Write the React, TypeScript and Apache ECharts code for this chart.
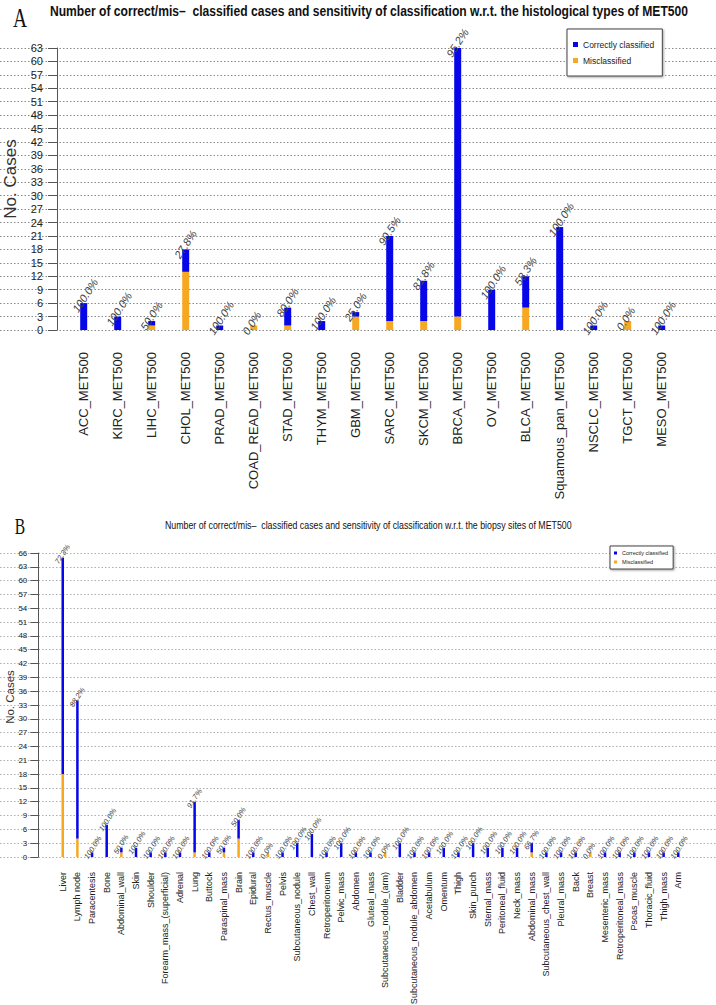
import React, { useEffect, useRef } from "react";
import * as echarts from "echarts";

// ---------- Panel A data ----------
const typesA = [
  "ACC_MET500", "KIRC_MET500", "LIHC_MET500", "CHOL_MET500", "PRAD_MET500",
  "COAD_READ_MET500", "STAD_MET500", "THYM_MET500", "GBM_MET500", "SARC_MET500",
  "SKCM_MET500", "BRCA_MET500", "OV_MET500", "BLCA_MET500", "Squamous_pan_MET500",
  "NSCLC_MET500", "TGCT_MET500", "MESO_MET500",
];
const correctA = [6, 3, 1, 5, 1, 0, 4, 2, 1, 19, 9, 60, 9, 7, 23, 1, 0, 1];
const misA = [0, 0, 1, 13, 0, 1, 1, 0, 3, 2, 2, 3, 0, 5, 0, 0, 2, 0];
const pctA = [
  "100.0%", "100.0%", "50.0%", "27.8%", "100.0%", "0.0%", "80.0%", "100.0%", "25.0%",
  "90.5%", "81.8%", "95.2%", "100.0%", "58.3%", "100.0%", "100.0%", "0.0%", "100.0%",
];

// ---------- Panel B data ----------
const sitesB = [
  "Liver", "Lymph node", "Paracentesis", "Bone", "Abdominal_wall", "Skin", "Shoulder",
  "Forearm_mass_(superficial)", "Adrenal", "Lung", "Buttock", "Paraspinal_mass", "Brain",
  "Epidural", "Rectus_muscle", "Pelvis", "Subcutaneous_nodule", "Chest_wall",
  "Retroperitoneum", "Pelvic_mass", "Abdomen", "Gluteal_mass", "Subcutaneous_nodule_(arm)",
  "Bladder", "Subcutaneous_nodule_abdomen", "Acetabulum", "Omentum", "Thigh", "Skin_punch",
  "Sternal_mass", "Peritoneal_fluid", "Neck_mass", "Abdominal_mass",
  "Subcutaneous_chest_wall", "Pleural_mass", "Back", "Breast", "Mesenteric_mass",
  "Retroperitoneal_mass", "Psoas_muscle", "Thoracic_fluid", "Thigh_mass", "Arm",
];
const correctB = [
  47, 30, 1, 7, 1, 2, 1, 1, 1, 11, 1, 1, 4, 1, 0, 1, 3, 5, 1, 3, 1, 1, 0, 3, 1, 1, 2, 1, 3,
  2, 2, 2, 2, 1, 1, 1, 0, 1, 1, 1, 1, 1, 1,
];
const misB = [
  18, 4, 0, 0, 1, 0, 0, 0, 0, 1, 0, 1, 4, 0, 1, 0, 0, 0, 0, 0, 0, 0, 1, 0, 0, 0, 0, 0, 0,
  0, 0, 0, 1, 0, 0, 0, 1, 0, 0, 0, 0, 0, 0,
];
const pctB = [
  "72.3%", "88.2%", "100.0%", "100.0%", "50.0%", "100.0%", "100.0%", "100.0%", "100.0%",
  "91.7%", "100.0%", "50.0%", "50.0%", "100.0%", "0.0%", "100.0%", "100.0%", "100.0%",
  "100.0%", "100.0%", "100.0%", "100.0%", "0.0%", "100.0%", "100.0%", "100.0%", "100.0%",
  "100.0%", "100.0%", "100.0%", "100.0%", "100.0%", "66.7%", "100.0%", "100.0%", "100.0%",
  "0.0%", "100.0%", "100.0%", "100.0%", "100.0%", "100.0%", "100.0%",
];

const titleA =
  "Number of correct/mis\u2013  classified cases and sensitivity of classification w.r.t. the histological types of MET500";
const titleB =
  "Number of correct/mis\u2013  classified cases and sensitivity of classification w.r.t. the biopsy sites of MET500";

const BLUE = "#0606e8";
const ORANGE = "#f7a823";
const SANS = "'Liberation Sans', Arial, Helvetica, sans-serif";
const NARROW = "'Liberation Sans Narrow', 'Arial Narrow', 'Liberation Sans', sans-serif";
const SERIF = "'Liberation Serif', 'Times New Roman', 'DejaVu Serif', serif";

function measure(text: string, font: string): number {
  const c = document.createElement("canvas").getContext("2d");
  if (!c) return text.length * 7;
  c.font = font;
  return c.measureText(text).width;
}

export default function App() {
  const ref = useRef<HTMLDivElement>(null);
  useEffect(() => {
    document.body.style.margin = "0";
    if (!ref.current) return;
    const chart = echarts.init(ref.current, undefined, { renderer: "svg" });

    const wA = measure(titleA, `bold 14px ${SANS}`);
    const wB = measure(titleB, `11px ${SANS}`);

    const bgY = (max: number, color: string) => ({
      type: "value",
      min: 0,
      max,
      interval: 3,
      axisLine: { show: false },
      axisTick: { show: false },
      axisLabel: { show: false },
      splitLine: { show: true, lineStyle: { color, type: [1.5, 2], width: 1 } },
    });

    const gridBase = { containLabel: false, outerBoundsMode: "none" };

    const option: any = {
      animation: false,
      backgroundColor: "#ffffff",
      graphic: [
        {
          type: "text",
          x: 50,
          y: 11,
          scaleX: 638 / wA,
          style: {
            text: titleA,
            fontSize: 14,
            fontWeight: "bold",
            fontFamily: SANS,
            fill: "#111",
            align: "left",
            verticalAlign: "middle",
          },
        },
        {
          type: "text",
          x: 165,
          y: 525,
          scaleX: 407 / wB,
          style: {
            text: titleB,
            fontSize: 11,
            fontFamily: SANS,
            fill: "#111",
            align: "left",
            verticalAlign: "middle",
          },
        },
        {
          type: "text",
          x: 20,
          y: 18,
          scaleX: 0.72,
          style: { text: "A", fontSize: 27, fontFamily: SERIF, fill: "#111", align: "center", verticalAlign: "middle" },
        },
        {
          type: "text",
          x: 20,
          y: 526,
          scaleX: 0.68,
          style: { text: "B", fontSize: 23, fontFamily: SERIF, fill: "#111", align: "center", verticalAlign: "middle" },
        },
      ],
      legend: [
        {
          left: 567,
          top: 29,
          orient: "vertical",
          data: ["Correctly classified", "Misclassified"],
          icon: "rect",
          itemWidth: 5,
          itemHeight: 5,
          itemGap: 7,
          padding: [11, 8, 11, 6],
          backgroundColor: "#fff",
          borderColor: "#444",
          borderWidth: 1,
          shadowColor: "rgba(0,0,0,0.35)",
          shadowBlur: 2,
          shadowOffsetX: 1,
          shadowOffsetY: 1,
          textStyle: { fontSize: 8.5, fontFamily: NARROW, color: "#222" },
        },
        {
          left: 610,
          top: 546,
          orient: "vertical",
          data: ["Correctly classified", "Misclassified"],
          icon: "rect",
          itemWidth: 3,
          itemHeight: 3,
          itemGap: 3,
          padding: [4, 5, 4, 4],
          backgroundColor: "#fff",
          borderColor: "#444",
          borderWidth: 1,
          shadowColor: "rgba(0,0,0,0.35)",
          shadowBlur: 2,
          shadowOffsetX: 1,
          shadowOffsetY: 1,
          textStyle: { fontSize: 5.5, fontFamily: NARROW, color: "#222" },
        },
      ],
      grid: [
        { ...gridBase, left: 66.7, right: 37.3, top: 48, bottom: 675 },
        { ...gridBase, left: 55.4, right: 30.4, top: 553, bottom: 148 },
        { ...gridBase, left: 0, right: 0, top: 48, bottom: 675 },
        { ...gridBase, left: 0, right: 0, top: 553, bottom: 148 },
      ],
      xAxis: [
        {
          type: "category",
          gridIndex: 0,
          data: typesA,
          axisLine: { show: false },
          axisTick: { show: false },
          axisLabel: { interval: 0, rotate: 90, margin: 22, fontSize: 13, fontFamily: SANS, color: "#222" },
        },
        {
          type: "category",
          gridIndex: 1,
          data: sitesB,
          axisLine: { show: false },
          axisTick: { show: false },
          axisLabel: { interval: 0, rotate: 90, margin: 15, fontSize: 9, fontFamily: SANS, color: "#222" },
        },
        { type: "value", gridIndex: 2, show: false, min: 0, max: 1 },
        { type: "value", gridIndex: 3, show: false, min: 0, max: 1 },
      ],
      yAxis: [
        {
          type: "value",
          gridIndex: 0,
          min: 0,
          max: 63,
          interval: 3,
          offset: 9.7,
          name: "No. Cases",
          nameLocation: "middle",
          nameMoveOverlap: false,
          nameGap: 38,
          nameTextStyle: { fontSize: 17, fontFamily: SANS, color: "#333", padding: [0, 0, 0, 20] },
          axisLine: { show: true, lineStyle: { color: "#555", width: 1 } },
          axisTick: { show: true, length: 9, lineStyle: { color: "#555" } },
          axisLabel: { margin: 14, fontSize: 11, fontFamily: NARROW, color: "#222" },
          splitLine: { show: false },
        },
        {
          type: "value",
          gridIndex: 1,
          min: 0,
          max: 66,
          interval: 3,
          offset: 17.1,
          name: "No. Cases",
          nameLocation: "middle",
          nameMoveOverlap: false,
          nameGap: 22,
          nameTextStyle: { fontSize: 11.5, fontFamily: SANS, color: "#333", padding: [0, 0, 0, 16] },
          axisLine: { show: true, lineStyle: { color: "#555", width: 1 } },
          axisTick: { show: true, length: 8, lineStyle: { color: "#555" } },
          axisLabel: { margin: 11, fontSize: 8, fontFamily: NARROW, color: "#222" },
          splitLine: { show: false },
        },
        { gridIndex: 2, ...bgY(63, "#8a8a8a") },
        { gridIndex: 3, ...bgY(66, "#b0b0b0") },
      ],
      series: [
        {
          name: "Misclassified",
          type: "bar",
          xAxisIndex: 0,
          yAxisIndex: 0,
          stack: "A",
          barWidth: 7,
          itemStyle: { color: ORANGE },
          data: misA,
        },
        {
          name: "Correctly classified",
          type: "bar",
          xAxisIndex: 0,
          yAxisIndex: 0,
          stack: "A",
          barWidth: 7,
          itemStyle: { color: BLUE },
          data: correctA,
          label: {
            show: true,
            position: "top",
            distance: 0,
            rotate: 57,
            align: "left",
            verticalAlign: "middle",
            offset: [-11.5, -3],
            fontSize: 11,
            fontStyle: "italic",
            fontFamily: SANS,
            color: "#444",
            formatter: (p: any) => pctA[p.dataIndex],
          },
        },
        {
          name: "Misclassified",
          type: "bar",
          xAxisIndex: 1,
          yAxisIndex: 1,
          stack: "B",
          barWidth: 2.5,
          itemStyle: { color: ORANGE },
          data: misB,
        },
        {
          name: "Correctly classified",
          type: "bar",
          xAxisIndex: 1,
          yAxisIndex: 1,
          stack: "B",
          barWidth: 2.5,
          itemStyle: { color: BLUE },
          data: correctB,
          label: {
            show: true,
            position: "top",
            distance: 0,
            rotate: 57,
            align: "left",
            verticalAlign: "middle",
            offset: [-8, -2],
            fontSize: 7.5,
            fontStyle: "italic",
            fontFamily: SANS,
            color: "#444",
            formatter: (p: any) => pctB[p.dataIndex],
          },
        },
      ],
    };
    chart.setOption(option);
    return () => chart.dispose();
  }, []);
  return (
    <div
      ref={ref}
      style={{ position: "absolute", left: 0, top: 0, width: 716, height: 1005, background: "#fff" }}
    />
  );
}
